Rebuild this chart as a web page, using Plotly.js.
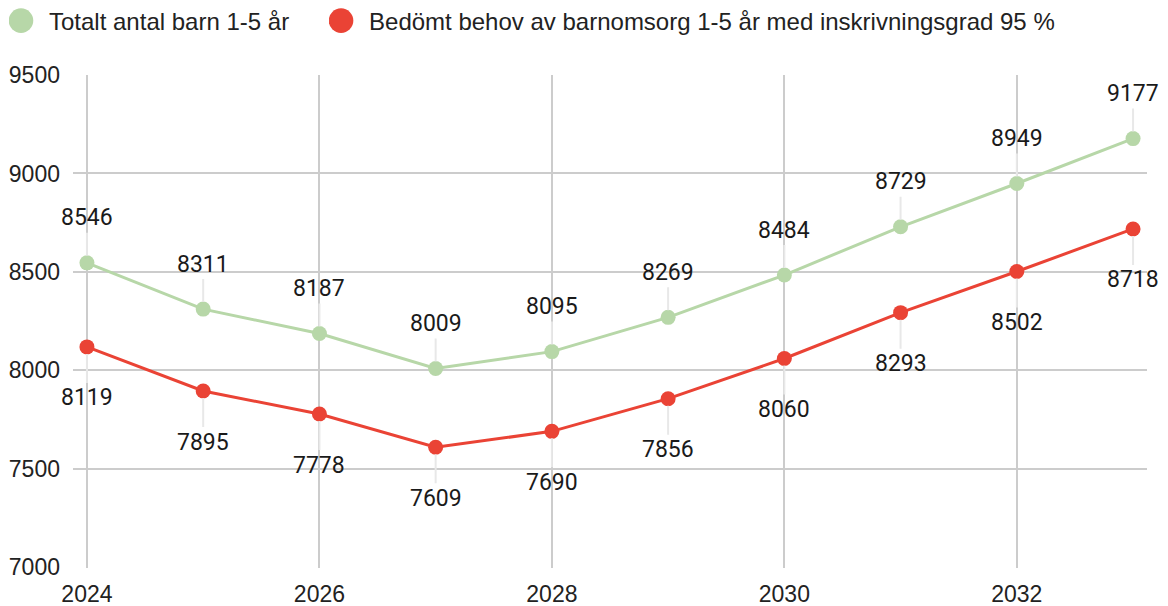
<!DOCTYPE html>
<html>
<head>
<meta charset="utf-8">
<script src="https://cdn.plot.ly/plotly-3.0.1.min.js"></script>
<style>
  html, body { margin: 0; padding: 0; background: #fff; }
  #chart { width: 1168px; height: 606px; }
</style>
</head>
<body>
<div id="chart"></div>
<script>
const years = [2024, 2025, 2026, 2027, 2028, 2029, 2030, 2031, 2032, 2033];
const totaltBarn = [8546, 8311, 8187, 8009, 8095, 8269, 8484, 8729, 8949, 9177];
const behovBarnomsorg = [8119, 7895, 7778, 7609, 7690, 7856, 8060, 8293, 8502, 8718];

const namnTotalt = "Totalt antal barn 1-5 år";
const namnBehov = "Bedömt behov av barnomsorg 1-5 år med inskrivningsgrad 95 %";

const gron = "#b7d7a8";
const rod = "#ea4335";

const traces = [
  // linjerna utan legend
  { x: years, y: totaltBarn, mode: "lines", line: { color: gron, width: 3 }, showlegend: false, hoverinfo: "skip" },
  { x: years, y: behovBarnomsorg, mode: "lines", line: { color: rod, width: 3 }, showlegend: false, hoverinfo: "skip" },
  // punkterna, med var sin legend
  { x: years, y: totaltBarn, mode: "markers", name: namnTotalt, marker: { color: gron, size: 15 }, hoverinfo: "skip", legend: "legend" },
  { x: years, y: behovBarnomsorg, mode: "markers", name: namnBehov, marker: { color: rod, size: 15 }, hoverinfo: "skip", legend: "legend2" }
];

// etiketter med små ledlinjer
const etikett = (x, y, ay) => ({
  x: x, y: y, text: String(y),
  showarrow: true, arrowhead: 0, arrowwidth: 2, arrowcolor: "#e8e8e8",
  ax: 0, ay: ay, standoff: 7,
  font: { family: "Roboto", size: 23, color: "#1a1a1a" }
});

const annotations = [
  ...years.map((x, i) => etikett(x, totaltBarn[i], -45)),
  ...years.map((x, i) => etikett(x, behovBarnomsorg[i], 51))
];

const legendFont = { family: "Liberation Sans, Arial", size: 24, color: "#222" };

const layout = {
  width: 1168,
  height: 606,
  margin: { l: 73, r: 21, t: 75, b: 38, autoexpand: false },
  paper_bgcolor: "#fff",
  plot_bgcolor: "#fff",
  font: { family: "Liberation Sans, Arial", size: 23, color: "#222" },
  showlegend: true,
  legend: {
    orientation: "h", x: -0.0596, xanchor: "left",
    y: 1.1095, yanchor: "middle", bgcolor: "rgba(0,0,0,0)",
    font: legendFont
  },
  legend2: {
    orientation: "h", x: 0.2384, xanchor: "left",
    y: 1.1095, yanchor: "middle", bgcolor: "rgba(0,0,0,0)",
    font: legendFont
  },
  xaxis: {
    range: [2023.88, 2033.12],
    tickmode: "linear", tick0: 2024, dtick: 2,
    showgrid: true, gridcolor: "#cccccc", gridwidth: 2,
    zeroline: false, showline: false,
    ticklabelstandoff: 10,
    tickfont: { size: 23, color: "#222" }
  },
  yaxis: {
    range: [6996, 9500],
    tickmode: "linear", tick0: 7000, dtick: 500,
    showgrid: true, gridcolor: "#cccccc", gridwidth: 2,
    zeroline: false, showline: false,
    ticklabelstandoff: 12,
    tickfont: { size: 23, color: "#222" }
  },
  annotations: annotations
};

Plotly.newPlot("chart", traces, layout, { displayModeBar: false, staticPlot: true }).then(gd => {
  // större cirklar i legenden, flyttade lite åt vänster
  gd.querySelectorAll(".legendpoints path.scatterpts").forEach(p => {
    const t = p.getAttribute("transform") || "";
    p.setAttribute("transform", t + " translate(-8,0) scale(1.64)");
  });
});
</script>
</body>
</html>
